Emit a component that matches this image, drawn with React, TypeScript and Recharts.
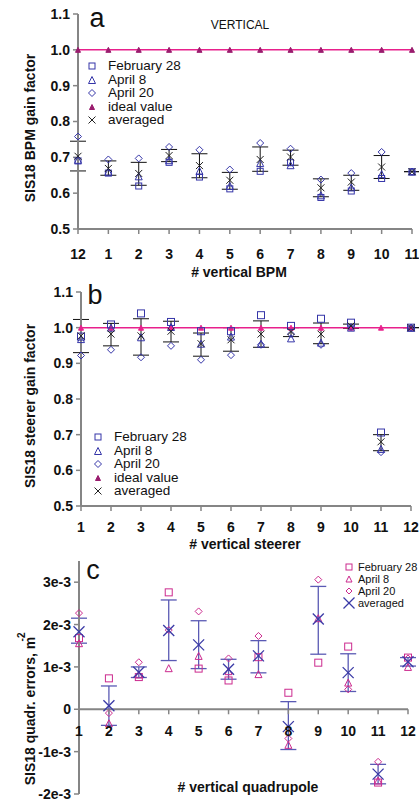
import React from 'react';
import { ComposedChart, Scatter, XAxis, YAxis, ErrorBar, ReferenceLine } from 'recharts';

const FONT = '"Liberation Sans", Arial, Helvetica, sans-serif';

// ---------- Panel a: vertical BPM gain factors ----------
const bpmLabels = ['12', '1', '2', '3', '4', '5', '6', '7', '8', '9', '10', '11'];
const bpmIndex = [0, 1, 2, 3, 4, 5, 6, 7, 8, 9, 10, 11];
const bpmFeb28 = [0.69, 0.656, 0.62, 0.686, 0.645, 0.612, 0.661, 0.685, 0.588, 0.606, 0.641, 0.66];
const bpmApr8 = [0.693, 0.66, 0.647, 0.692, 0.662, 0.62, 0.684, 0.678, 0.594, 0.616, 0.653, 0.66];
const bpmApr20 = [0.758, 0.694, 0.697, 0.729, 0.721, 0.666, 0.74, 0.724, 0.638, 0.656, 0.715, 0.66];
const bpmAvg = [0.703, 0.669, 0.655, 0.705, 0.677, 0.636, 0.694, 0.701, 0.615, 0.631, 0.673, 0.66];
const bpmErrTop = [0.745, 0.69, 0.686, 0.722, 0.71, 0.658, 0.729, 0.72, 0.64, 0.65, 0.705, 0.66];
const bpmErrBot = [0.662, 0.65, 0.622, 0.688, 0.643, 0.611, 0.661, 0.678, 0.59, 0.608, 0.641, 0.66];
const bpmIdeal = [1, 1, 1, 1, 1, 1, 1, 1, 1, 1, 1, 1];
const gainTicks = [0.5, 0.6, 0.7, 0.8, 0.9, 1.0, 1.1];

// ---------- Panel b: vertical steerer gain factors ----------
const steerNo = [1, 2, 3, 4, 5, 6, 7, 8, 9, 10, 11, 12];
const steerFeb28 = [0.975, 1.009, 1.04, 1.016, 0.99, 0.99, 1.035, 1.005, 1.025, 1.014, 0.706, 1.0];
const steerApr8 = [0.968, 1.0, 0.973, 1.002, 0.955, 0.975, 0.955, 0.97, 0.958, 1.0, 0.66, 1.0];
const steerApr20 = [0.922, 0.938, 0.917, 0.949, 0.91, 0.923, 0.952, 0.982, 0.952, 1.002, 0.651, 1.0];
const steerAvg = [0.977, 0.982, 0.977, 0.99, 0.955, 0.966, 0.982, 0.989, 0.982, 1.005, 0.68, 1.0];
const steerErrTop = [1.023, 1.012, 1.025, 1.018, 0.985, 1.0, 1.019, 1.0, 1.013, 1.01, 0.7, 1.0];
const steerErrBot = [0.93, 0.949, 0.923, 0.96, 0.92, 0.934, 0.945, 0.975, 0.955, 0.998, 0.655, 1.0];
const steerIdeal = [1, 1, 1, 1, 1, 1, 1, 1, 1, 1, 1, 1];

// ---------- Panel c: vertical quadrupole errors ----------
const quadNo = [1, 2, 3, 4, 5, 6, 7, 8, 9, 10, 11, 12];
const quadFeb28 = [1.68e-3, 0.73e-3, 0.76e-3, 2.76e-3, 0.96e-3, 0.68e-3, 1.23e-3, 0.39e-3, 1.1e-3, 1.48e-3, -1.73e-3, 1.22e-3];
const quadApr8 = [1.56e-3, -0.33e-3, 0.82e-3, 0.97e-3, 1.26e-3, 0.9e-3, 0.83e-3, -0.84e-3, 2.15e-3, 0.63e-3, -1.68e-3, 1.0e-3];
const quadApr20 = [2.27e-3, -0.09e-3, 1.11e-3, 1.87e-3, 2.31e-3, 1.2e-3, 1.73e-3, -0.69e-3, 3.06e-3, 0.47e-3, -1.24e-3, 1.2e-3];
const quadAvg = [1.83e-3, 0.085e-3, 0.875e-3, 1.86e-3, 1.52e-3, 0.945e-3, 1.26e-3, -0.41e-3, 2.13e-3, 0.865e-3, -1.53e-3, 1.12e-3];
const quadErrTop = [2.15e-3, 0.55e-3, 1.0e-3, 2.58e-3, 2.09e-3, 1.18e-3, 1.62e-3, 0.18e-3, 2.9e-3, 1.31e-3, -1.3e-3, 1.22e-3];
const quadErrBot = [1.56e-3, -0.38e-3, 0.75e-3, 1.15e-3, 0.96e-3, 0.71e-3, 0.86e-3, -0.95e-3, 1.3e-3, 0.42e-3, -1.76e-3, 1.02e-3];
const quadTicks = [-2e-3, -1e-3, 0, 1e-3, 2e-3, 3e-3];

// ---------- colours ----------
const BLUE = '#3535a8';
const MAGENTA = '#cc2a8e';
const IDEAL_LINE = '#e8208c';
const IDEAL_MARK = '#9a1c6e';
const AVG_BLUE = '#3a3aa6';
const ERR_BLUE = '#5a5ab4';
const AXIS = '#858585';

// ---------- marker shapes ----------
const squareShape = (color: string, s: number) => (p: any) =>
  p.cx == null ? null : (
    <rect x={p.cx - s / 2} y={p.cy - s / 2} width={s} height={s} fill="none" stroke={color} strokeWidth={1} />
  );
const triangleShape = (color: string, s: number, filled = false) => (p: any) =>
  p.cx == null ? null : (
    <path
      d={`M${p.cx},${p.cy - s / 2} L${p.cx + s / 2},${p.cy + s / 2} L${p.cx - s / 2},${p.cy + s / 2} Z`}
      fill={filled ? color : 'none'}
      stroke={color}
      strokeWidth={1}
    />
  );
const diamondShape = (color: string, s: number) => (p: any) =>
  p.cx == null ? null : (
    <path
      d={`M${p.cx},${p.cy - s / 2} L${p.cx + s / 2},${p.cy} L${p.cx},${p.cy + s / 2} L${p.cx - s / 2},${p.cy} Z`}
      fill="none"
      stroke={color}
      strokeWidth={1}
    />
  );
const crossShape = (color: string, s: number, w = 1) => (p: any) =>
  p.cx == null ? null : (
    <g stroke={color} strokeWidth={w}>
      <line x1={p.cx - s / 2} y1={p.cy - s / 2} x2={p.cx + s / 2} y2={p.cy + s / 2} />
      <line x1={p.cx - s / 2} y1={p.cy + s / 2} x2={p.cx + s / 2} y2={p.cy - s / 2} />
    </g>
  );

const pts = (xs: number[], ys: number[]) => xs.map((x, i) => ({ x, y: ys[i] }));
const avgPts = (xs: number[], ys: number[], top: number[], bot: number[]) =>
  xs.map((x, i) => ({ x, y: ys[i], err: [ys[i] - bot[i], top[i] - ys[i]] }));

const tickStyle = { fontFamily: FONT, fontSize: 14, fontWeight: 700, fill: '#111' };

// ---------- legend (HTML) ----------
type LegendRow = { label: string; icon: React.ReactNode };
const Legend = ({ rows, left, top, fontSize, rowH, iconW }: { rows: LegendRow[]; left: number; top: number; fontSize: number; rowH: number; iconW: number }) => (
  <div style={{ position: 'absolute', left, top, fontFamily: FONT, fontSize, color: '#111' }}>
    {rows.map((r, i) => (
      <div key={i} style={{ display: 'flex', alignItems: 'center', height: rowH, whiteSpace: 'nowrap' }}>
        <svg width={iconW} height={rowH} style={{ flex: 'none' }}>{r.icon}</svg>
        <span style={{ lineHeight: `${rowH}px` }}>{r.label}</span>
      </div>
    ))}
  </div>
);

const iconAt = (shape: (p: any) => any, cx: number, cy: number) => shape({ cx, cy });

const Title = ({ text, x, y, rotate = false, size = 14, weight = 700 }: { text: string; x: number; y: number; rotate?: boolean; size?: number; weight?: number }) => (
  <div
    style={{
      position: 'absolute',
      left: x,
      top: y,
      transform: `translate(-50%, -50%)${rotate ? ' rotate(-90deg)' : ''}`,
      fontFamily: FONT,
      fontSize: size,
      fontWeight: weight,
      whiteSpace: 'nowrap',
      color: '#111',
      lineHeight: 1,
    }}
  >
    {text}
  </div>
);

// panel c x-axis drawn at value 0
const C_H = 261;
const C_TOP = 21;
const C_XH = 7;
const C_DOMAIN: [number, number] = [-2e-3, 3.5e-3];
const C_ZERO_Y = C_TOP + ((C_DOMAIN[1] - 0) / (C_DOMAIN[1] - C_DOMAIN[0])) * (C_H - C_TOP - C_XH);
const QuadTick = (p: any) => (
  <g>
    <line x1={p.x} x2={p.x} y1={C_ZERO_Y} y2={C_ZERO_Y + 5} stroke={AXIS} strokeWidth={1.5} />
    <text x={p.x} y={C_ZERO_Y + 27} textAnchor="middle" style={tickStyle as any}>
      {p.payload.value}
    </text>
  </g>
);

export default function App() {
  const aFeb = pts(bpmIndex, bpmFeb28);
  const aApr8 = pts(bpmIndex, bpmApr8);
  const aApr20 = pts(bpmIndex, bpmApr20);
  const aAvg = avgPts(bpmIndex, bpmAvg, bpmErrTop, bpmErrBot);
  const aIdeal = pts(bpmIndex, bpmIdeal);

  const bFeb = pts(steerNo, steerFeb28);
  const bApr8 = pts(steerNo, steerApr8);
  const bApr20 = pts(steerNo, steerApr20);
  const bAvg = avgPts(steerNo, steerAvg, steerErrTop, steerErrBot);
  const bIdeal = pts(steerNo, steerIdeal);

  const cFeb = pts(quadNo, quadFeb28);
  const cApr8 = pts(quadNo, quadApr8);
  const cApr20 = pts(quadNo, quadApr20);
  const cAvg = avgPts(quadNo, quadAvg, quadErrTop, quadErrBot);

  const axisLine = { stroke: AXIS, strokeWidth: 2 };
  const tickLine = { stroke: AXIS, strokeWidth: 1.5 };

  const abLegend = (idealColor: string): LegendRow[] => [
    { label: 'February 28', icon: iconAt(squareShape(BLUE, 6), 8, 7) },
    { label: 'April 8', icon: iconAt(triangleShape(BLUE, 7), 8, 7) },
    { label: 'April 20', icon: iconAt(diamondShape(BLUE, 7), 8, 7) },
    { label: 'ideal value', icon: iconAt(triangleShape(idealColor, 5, true), 8, 7) },
    { label: 'averaged', icon: iconAt(crossShape('#222', 7), 8, 7) },
  ];

  return (
    <div style={{ position: 'absolute', left: 0, top: 0, width: 419, height: 801, background: '#fff', overflow: 'hidden' }}>
      {/* ---------------- panel a ---------------- */}
      <div style={{ position: 'absolute', left: 0, top: 0 }}>
        <ComposedChart width={419} height={280} margin={{ top: 14, right: 7, left: 0, bottom: 0 }}>
          <XAxis
            type="number"
            dataKey="x"
            domain={[0, 11]}
            ticks={bpmIndex}
            interval={0}
            tickFormatter={(v: number) => bpmLabels[v]}
            axisLine={axisLine}
            tickLine={tickLine}
            tickSize={5}
            tickMargin={15}
            height={51}
            tick={tickStyle}
          />
          <YAxis
            type="number"
            dataKey="y"
            domain={[0.5, 1.1]}
            ticks={gainTicks}
            interval={0}
            tickFormatter={(v: number) => v.toFixed(1)}
            axisLine={axisLine}
            tickLine={tickLine}
            tickSize={5}
            tickMargin={3}
            width={78}
            tick={tickStyle}
          />
          <Scatter data={aIdeal} isAnimationActive={false} line={{ stroke: IDEAL_LINE, strokeWidth: 1.5 }} shape={triangleShape(IDEAL_MARK, 5, true)} />
          <Scatter data={aFeb} isAnimationActive={false} shape={squareShape(BLUE, 6)} />
          <Scatter data={aApr8} isAnimationActive={false} shape={triangleShape(BLUE, 7)} />
          <Scatter data={aApr20} isAnimationActive={false} shape={diamondShape(BLUE, 7)} />
          <Scatter data={aAvg} isAnimationActive={false} shape={crossShape('#222', 7)}>
            <ErrorBar dataKey="err" direction="y" width={8} stroke="#111" strokeWidth={1} />
          </Scatter>
        </ComposedChart>
      </div>
      <Title text="a" x={97} y={18} size={27} weight={400} />
      <Title text="VERTICAL" x={240} y={25} size={12} weight={400} />
      <Legend rows={abLegend(IDEAL_MARK)} left={84} top={59} fontSize={13.5} rowH={13.5} iconW={24} />
      <Title text="SIS18 BPM gain factor" x={30} y={128} rotate />
      <Title text="# vertical BPM" x={239} y={272} />

      {/* ---------------- panel b ---------------- */}
      <div style={{ position: 'absolute', left: 0, top: 270 }}>
        <ComposedChart width={419} height={280} margin={{ top: 22, right: 8, left: 0, bottom: 0 }}>
          <XAxis
            type="number"
            dataKey="x"
            domain={[1, 12]}
            ticks={steerNo}
            interval={0}
            axisLine={axisLine}
            tickLine={tickLine}
            tickSize={5}
            tickMargin={11}
            height={44}
            tick={tickStyle}
          />
          <YAxis
            type="number"
            dataKey="y"
            domain={[0.5, 1.1]}
            ticks={gainTicks}
            interval={0}
            tickFormatter={(v: number) => v.toFixed(1)}
            axisLine={axisLine}
            tickLine={tickLine}
            tickSize={5}
            tickMargin={3}
            width={81}
            tick={tickStyle}
          />
          <Scatter data={bIdeal} isAnimationActive={false} line={{ stroke: IDEAL_LINE, strokeWidth: 1.5 }} shape={triangleShape(IDEAL_LINE, 5, true)} />
          <Scatter data={bFeb} isAnimationActive={false} shape={squareShape(BLUE, 7)} />
          <Scatter data={bApr8} isAnimationActive={false} shape={triangleShape(BLUE, 7)} />
          <Scatter data={bApr20} isAnimationActive={false} shape={diamondShape(BLUE, 7)} />
          <Scatter data={bAvg} isAnimationActive={false} shape={crossShape('#222', 7)}>
            <ErrorBar dataKey="err" direction="y" width={8} stroke="#111" strokeWidth={1} />
          </Scatter>
        </ComposedChart>
      </div>
      <Title text="b" x={95} y={295} size={27} weight={400} />
      <Legend rows={abLegend(IDEAL_MARK)} left={90} top={430} fontSize={13.5} rowH={13.5} iconW={24} />
      <Title text="SIS18 steerer gain factor" x={30} y={406} rotate />
      <Title text="# vertical steerer" x={245} y={544} />

      {/* ---------------- panel c ---------------- */}
      <div style={{ position: 'absolute', left: 0, top: 540 }}>
        <ComposedChart width={419} height={C_H} margin={{ top: C_TOP, right: 11, left: 0, bottom: 0 }}>
          <XAxis
            type="number"
            dataKey="x"
            domain={[1, 12]}
            ticks={quadNo}
            interval={0}
            axisLine={false}
            tickLine={false}
            height={C_XH}
            tick={<QuadTick />}
          />
          <YAxis
            type="number"
            dataKey="y"
            domain={C_DOMAIN}
            ticks={quadTicks}
            interval={0}
            tickFormatter={(v: number) => (Math.abs(v) < 1e-9 ? '0' : `${Math.round(v * 1000)}e-3`)}
            axisLine={axisLine}
            tickLine={tickLine}
            tickSize={5}
            tickMargin={3}
            width={79}
            tick={tickStyle}
          />
          <ReferenceLine y={0} stroke={AXIS} strokeWidth={2} />
          <Scatter data={cFeb} isAnimationActive={false} shape={squareShape(MAGENTA, 7)} />
          <Scatter data={cApr8} isAnimationActive={false} shape={triangleShape(MAGENTA, 7)} />
          <Scatter data={cApr20} isAnimationActive={false} shape={diamondShape(MAGENTA, 7)} />
          <Scatter data={cAvg} isAnimationActive={false} shape={crossShape(AVG_BLUE, 11, 1.3)}>
            <ErrorBar dataKey="err" direction="y" width={8} stroke={ERR_BLUE} strokeWidth={1.3} />
          </Scatter>
        </ComposedChart>
      </div>
      <Title text="c" x={93} y={570} size={27} weight={400} />
      <Legend
        rows={[
          { label: 'February 28', icon: iconAt(squareShape(MAGENTA, 6), 8, 6) },
          { label: 'April 8', icon: iconAt(triangleShape(MAGENTA, 6), 8, 6) },
          { label: 'April 20', icon: iconAt(diamondShape(MAGENTA, 6), 8, 6) },
          { label: 'averaged', icon: iconAt(crossShape(AVG_BLUE, 11, 1.3), 8, 6) },
        ]}
        left={341}
        top={561}
        fontSize={11}
        rowH={12}
        iconW={17}
      />
      <Title text="SIS18 quadr. errors, m" x={30} y={711} rotate />
      <Title text="-2" x={22} y={637} rotate size={10} />
      <Title text="# vertical quadrupole" x={248} y={787} />
    </div>
  );
}
